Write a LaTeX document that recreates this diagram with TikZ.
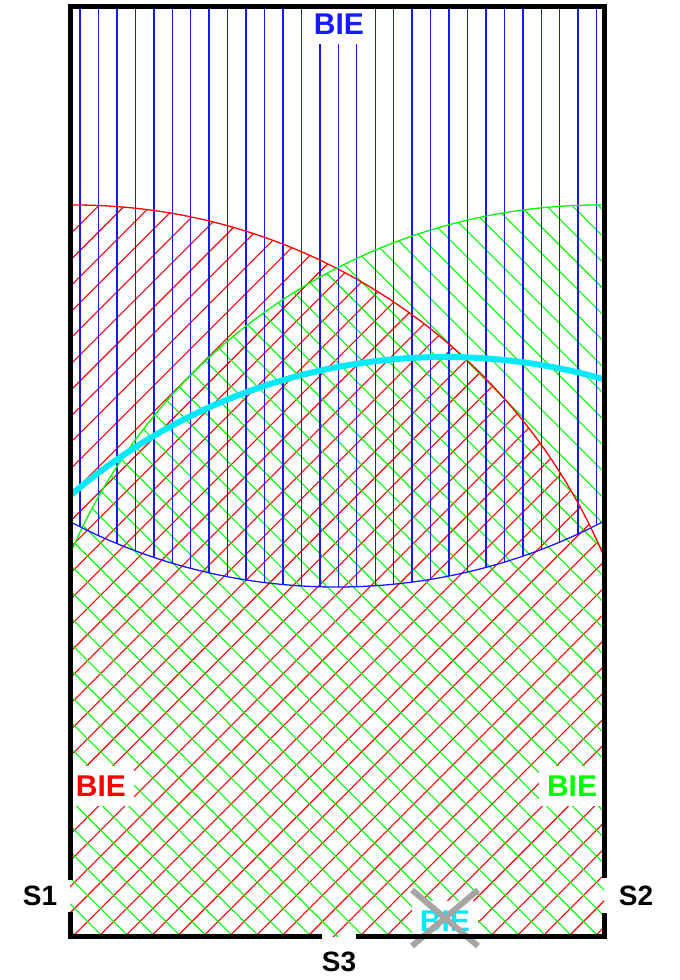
\documentclass[tikz,border=0pt]{standalone}
\usepackage{fontspec}
\setmainfont{Liberation Sans}
\usetikzlibrary{shapes.misc, positioning}

\definecolor{lostgray}{RGB}{165,165,165}
\definecolor{sigblue}{RGB}{25,25,255}
\definecolor{sigcyan}{RGB}{0,235,255}

\begin{document}
\begin{tikzpicture}[x=1pt, y=-1pt,
  lbl/.style={font=\fontsize{28}{30}\selectfont\bfseries, inner sep=0pt},
  bie/.style={lbl, font=\fontsize{30}{32}\selectfont\bfseries, fill=white,
              inner xsep=8pt, inner ysep=10pt},
  hatch/.style={line width=1.1pt},
  wall/.style={line width=5pt}]
  \useasboundingbox (0,0) rectangle (680,980);
  \coordinate (tl) at (70,6.5);
  \coordinate (tr) at (604,6.5);
  \coordinate (bl) at (70,936);
  \coordinate (br) at (604,936);
  \coordinate (stR) at (74,780);
  \coordinate (stG) at (599,780);
  \coordinate (stB) at (336.5,12);
  \coordinate (stC) at (445,933);
  % coverage areas
  \begin{scope}
    \clip (tl) rectangle (br);
    \begin{scope}
      \clip (stR) circle (575);
      \foreach \k in {0,...,49}
        \draw[hatch, red] ({278.3+26.1*\k},0) -- ++(-950,950);
    \end{scope}
    \begin{scope}
      \clip (stG) circle (575);
      \foreach \k in {-1,...,49}
        \draw[hatch, green] ({-860+26.1*\k},0) -- ++(950,950);
    \end{scope}
    \begin{scope}
      \clip (stB) circle (575);
      \foreach \k in {0,...,28}
        \draw[hatch, sigblue, line width=1.4pt] ({80+18.45*\k},0) -- ++(0,950);
    \end{scope}
    \draw[red, line width=1.3pt] (stR) circle (575);
    \draw[green, line width=1.3pt] (stG) circle (575);
    \draw[sigblue, line width=1.3pt] (stB) circle (575);
    \draw[sigcyan, line width=6pt] (stC) circle (576);
  \end{scope}
  % labels
  \node[bie, text=sigblue] (bieB) at (339,24) {BIE};
  \node[bie, text=red] (bieR) at (101,786) {BIE};
  \node[bie, text=green] (bieG) at (572,786) {BIE};
  \node[bie, text=sigcyan] (bieC) at (445,921) {BIE};
  \node[cross out, draw=lostgray, line width=6pt, minimum width=60pt,
        minimum height=50pt, inner sep=0pt] (lost) at (445,918) {};
  % walls with the three openings
  \draw[wall] (70,880) -- (tl) -- (tr) -- (604,878);
  \draw[wall] (604,913) -- (br) -- (356,936);
  \draw[wall] (322,936) -- (bl) -- (70,912);
  \node[lbl] (s1) at (40,896) {S1};
  \node[lbl] (s2) at (636,896) {S2};
  \node[lbl] (s3) at (339,962) {S3};
\end{tikzpicture}
\end{document}
